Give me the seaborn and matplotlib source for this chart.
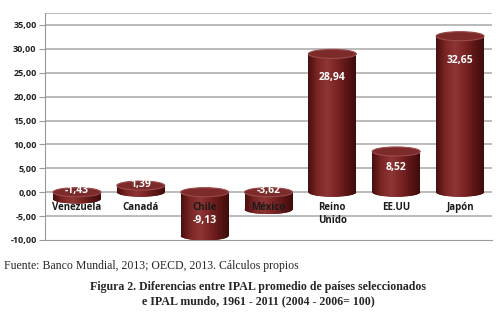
import numpy as np
import pandas as pd
import matplotlib
matplotlib.use("Agg")
import matplotlib.pyplot as plt
import seaborn as sns
from matplotlib.patches import Ellipse
from matplotlib.colors import LinearSegmentedColormap

paises = ["Venezuela", "Canadá", "Chile", "México", "Reino\nUnido", "EE.UU", "Japón"]
valores = [-1.43, 1.39, -9.13, -3.62, 28.94, 8.52, 32.65]
etiquetas = ["-1,43", "1,39", "-9,13", "-3,62", "28,94", "8,52", "32,65"]
yticks = [-10, -5, 0, 5, 10, 15, 20, 25, 30, 35]
fuente = "Fuente: Banco Mundial, 2013; OECD, 2013. Cálculos propios"
titulo = "Figura 2. Diferencias entre IPAL promedio de países seleccionados\ne IPAL mundo, 1961 - 2011 (2004 - 2006= 100)"

sns.set_style("white")
plt.rcParams["font.family"] = ["Open Sans", "DejaVu Sans"]

fig = plt.figure(figsize=(4.98, 3.13), dpi=100)
ax = fig.add_axes([45 / 498, 1 - 240 / 313, 447 / 498, 227 / 313])

df = pd.DataFrame({"pais": paises, "valor": valores})
body = "#6e1c1c"
sns.barplot(data=df, x="pais", y="valor", color=body, width=0.75,
            saturation=1, ax=ax, zorder=3, edgecolor="none")

ax.set_ylim(-10, 37.5)
ax.set_xlim(-0.5, 6.5)
ax.set_yticks(yticks)
ax.set_yticklabels([f"{t:.2f}".replace(".", ",") for t in yticks],
                   fontsize=6.5, fontweight="bold", color="#222222")
ax.set_xticks([])
ax.set_xlabel("")
ax.set_ylabel("")
for y in yticks[1:]:
    ax.axhline(y, color="#b5b5b5", lw=1.3, zorder=1)
ax.axhline(37.5, color="#b5b5b5", lw=1.3, zorder=1)
for s in ["top", "right"]:
    ax.spines[s].set_visible(False)
ax.spines["left"].set_color("#999999")
ax.spines["bottom"].set_color("#999999")
ax.tick_params(axis="y", length=4, width=0.8, color="#999999", pad=2, left=True)

cmap = LinearSegmentedColormap.from_list(
    "cyl", ["#4a0f0f", "#7d2626", "#8e3636", "#7a2424", "#5e1616", "#3f0c0c"])
grad = np.linspace(0, 1, 64).reshape(1, -1)
eh = 1.9
for patch, v in zip(ax.patches, valores):
    x0 = patch.get_x()
    w = patch.get_width()
    xc = x0 + w / 2
    lo, hi = min(0, v), max(0, v)
    ax.add_patch(Ellipse((xc, lo), w, eh, facecolor="#4f1111",
                         edgecolor="none", zorder=2.9))
    im = ax.imshow(grad, cmap=cmap, aspect="auto",
                   extent=[x0, x0 + w, lo, hi], zorder=3.1)
    im.set_clip_path(patch)
    bot = Ellipse((xc, lo), w, eh, facecolor="none", edgecolor="none")
    ax.add_patch(bot)
    im2 = ax.imshow(grad, cmap=cmap, aspect="auto",
                    extent=[x0, x0 + w, lo - eh / 2, lo], zorder=3.1)
    im2.set_clip_path(bot)
    ax.add_patch(Ellipse((xc, hi), w, eh, facecolor="#7c2a2a",
                         edgecolor="#9a4a4a", lw=0.8, zorder=3.3))

for i, (v, t) in enumerate(zip(valores, etiquetas)):
    if v >= 5:
        yl = v - min(5, 0.4 * v)
    elif v > -5:
        yl = max(v, 0) + 0.3
    else:
        yl = v + 3.2
    ax.text(i, yl, t, ha="center", va="center", color="white",
            fontsize=7.5, fontweight="bold", zorder=5)

for i, p in enumerate(paises):
    ax.text(i, -2.0, p, ha="center", va="top", color="#1a1a1a",
            fontsize=7, fontweight="bold", zorder=4, linespacing=1.3)

fig.text(4 / 498, 1 - 266 / 313, fuente, ha="left", va="center",
         fontsize=8.5, family=["Liberation Serif", "DejaVu Serif"])
fig.text(258 / 498, 1 - 294 / 313, titulo, ha="center", va="center",
         fontsize=8.6, fontweight="bold", family=["Liberation Serif", "DejaVu Serif"],
         linespacing=1.2)

fig.savefig("out.png", dpi=100)
